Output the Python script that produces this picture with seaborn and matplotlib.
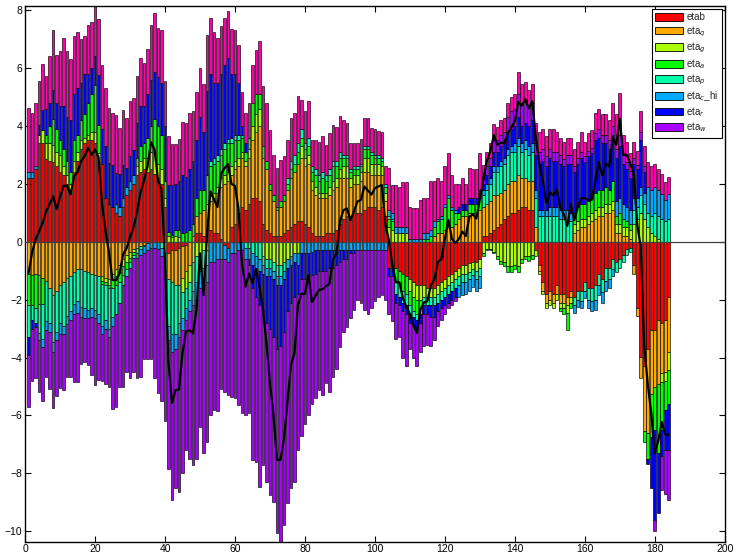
import colorsys

import numpy as np
import matplotlib
matplotlib.use("Agg")
import matplotlib.pyplot as plt
from matplotlib.patches import Patch
import seaborn as sns

# ------------------------------------------------------------
# Shock decomposition data (periods 1..184), one signed value per period
# ------------------------------------------------------------
periods = np.arange(1, 185)

etab = [
    2.2, 2.2, 2.5, 3.4, 3.4,
    2.85, 2.8, 2.75, 2.6, 2.4, 2.3, 2.0, 1.7, 2.4, 2.8, 3.2, 3.4, 3.5, 3.5, 3.4, 2.75,
    2.7, 1.5, 1.3, 1.2, 1.0, 0.9, 1.2, 1.6, 1.8, 2.0,
    2.3, 2.4, 2.5, 2.4, 2.5, 2.35, 2.2, 2.0, 1.2,
    -0.4, -0.3, -0.3, -0.2, -0.15, -0.1, 0, 0, 0.3, 0.3, 0.2, 0.4, 0.4, 0.3, 0.3, 0.1, -0.1, -0.2,
    0.5, 0.6, 1.0, 1.2, 1.1, 1.3, 1.5, 1.5, 1.4, 0.6, 0.4, 0.3, 0.2, 0.2, 0.2, 0.3, 0.4, 0.5, 0.6, 0.7,
    0.7, 0.6, 0.5, 0.3, 0.2, 0.2, 0.2, 0.3, 0.3, 0.3, 0.4, 0.6, 0.8, 0.9, 0.9, 1.0, 1.0, 1.0, 1.1, 1.2,
    1.2, 1.2, 1.1, 1.2, 0.9,
    -0.9, -0.9, -0.9, -1.0, -1.1, -1.2, -1.3, -1.4, -1.5, -1.5, -1.5, -1.6, -1.6,
    -1.6, -1.5, -1.4, -1.3, -1.2, -1.1, -1.0, -0.9, -0.8, -0.8, -0.75, -0.7, -0.7, -0.6,
    0.2, 0.2, 0.3, 0.4, 0.5, 0.6, 0.8, 0.9, 1.0, 1.0, 1.1, 1.2, 1.2, 1.1, 1.1, -0.3,
    -0.8, -1.4, -1.8, -1.7, -1.8, -1.5, -1.8, -1.8, -1.9, -1.7, -1.9, -1.7, -1.7, -1.4, -1.6, -1.6,
    -1.5, -1.1, -1.3, -0.9, -0.9, -0.6, -0.7, -0.6, -0.45, -0.25, -0.2,
    -0.8, -2.3, -3.97, -4.3, -3.7, -3.05, -3.05, -2.7, -2.8, -2.7, -1.9,
]

eta_q = [
    -1.1, -1.15, -1.1, -1.15, -1.25,
    -1.35, -1.6, -1.85, -1.7, -1.5, -1.4, -1.25, -1.2, -1.05, -0.95, -0.95, -1.0, -1.05, -1.1, -1.15, -1.2,
    -1.2, -1.25, -1.3, -1.1, -0.95, -0.8, -0.6, -0.45, -0.35, -0.25,
    -0.2, -0.15, -0.1, -0.05, 0, 0, 0, 0, -0.4,
    -0.9, -1.1, -1.2, -1.3, -1.1, -0.9, -0.8, 0.2, 0.6, 0.7, 0.9, 0.9, 1.0, 1.2, 1.4, 1.8, 2.0, 2.1,
    1.8, 1.9, 1.6, 1.7, 1.5, 1.6, 2.0, 2.3, 2.6, 2.3, 2.1, 1.5, 1.2, 0.9, 1.0, 1.1, 1.4, 1.7, 1.8, 2.0,
    2.2, 2.0, 2.2, 1.5, 1.4, 1.3, 1.3, 1.2, 1.3, 1.5, 1.5, 1.6, 1.4, 1.3, 1.0, 1.0, 1.0, 1.1, 1.3, 1.2,
    1.1, 1.1, 1.2, 1.1, 0.5,
    0, 0, 0, 0, 0, 0, 0, 0, 0, 0, 0, 0, 0,
    0.2, 0.3, 0.3, 0.4, 0.5, 0.5, 0.6, 0.8, 0.9, 0.9, 1.0, 1.0, 1.0, 1.1,
    1.0, 1.1, 1.1, 1.2, 1.1, 1.1, 1.0, 1.1, 1.1, 1.1, 1.2, 1.0, 1.0, 1.0, 1.0, 0.5,
    -0.2, -0.3, -0.3, -0.3, -0.3, -0.3, -0.3, -0.3, -0.3, -0.2, 0.3, 0.4, 0.5, 0.5, 0.6, 0.7,
    0.8, 0.9, 0.9, 1.0, 1.0, 1.1, 0.3, 0.3, 0.2, 0.2, 0.1,
    -0.3, -0.25, -0.73, -2.25, -2.9, -2.2, -1.95, -2.2, -1.75, -1.8, -1.9,
]

eta_g = [
    0, 0, 0, 0.3, 0.45,
    0.55, 0.6, 0.6, 0.5, 0.6, 0.3, 0.3, 0.3, 0.4, 0.3, 0.3, 0.2, 0.2, 0.3, 0.4, 0.3,
    -0.15, -0.15, -0.2, -0.2, -0.25, -0.25, -0.25, -0.25, -0.2, -0.1,
    0.3, 0.4, 0.4, 0.5, 0.6, 0.7, 0.5, 0.5, 0.3,
    0.2, 0.15, 0.2, 0.15, -0.5, -0.6, -0.6, -0.7, -0.5, -0.4, -0.3, -0.3, 0.2, 0.2, 0.2, 0.3, 0.3, 0.3,
    0.3, 0.3, 0.3, 0.2, 0.2, 0.3, 0.5, 0.6, 0.6, -0.5, -0.6, -0.6, -0.7, -0.8, -0.8, -0.7, -0.6, -0.5,
    -0.4, -0.4,
    0.4, 0.3, 0.3, 0.3, 0.3, 0.2, 0.2, 0.2, 0.3, 0.3, 0.3, 0.3, 0.4, 0.4, 0.3, 0.3, 0.3, 0.3, 0.5, 0.5,
    0.4, 0.4, 0.4, 0.3, 0.3,
    0.5, 0.4, 0.3, 0.3, 0.3, 0.3, -0.4, -0.5, -0.5, -0.5, -0.4, -0.3, -0.3,
    -0.3, -0.3, -0.3, -0.3, -0.3, -0.3, -0.3, -0.3, -0.3, -0.3, -0.3, -0.25, -0.3, -0.3,
    -0.4, -0.25, -0.25, -0.35, -0.5, -0.65, -0.7, -0.85, -0.85, -0.8, -0.85, -0.6, -0.5, -0.5, -0.45, -0.2,
    -0.1, -0.1, -0.2, -0.2, -0.2, -0.2, -0.2, -0.2, -0.25, -0.2, 0.3, 0.3, 0.3, 0.3, 0.3, 0.3,
    0.3, 0.3, 0.3, 0.3, 0.3, 0.3, 0.3, 0.3, 0.3, 0.3, 0.3,
    0.6, 0.8, 1.0, 0.8, 0.5, 0.3, 0.2, 0.1, -0.3, -0.3, -0.63,
]

eta_a = [
    -1.1, -1.05, -1.2, -1.0, -0.9,
    0.3, 0.6, 0.9, 0.8, 0.5, 0.6, 0.5, 0.4, 0.7, 0.6, 0.7, 0.8, 1.1, 1.3, 1.6, 1.0,
    -0.1, -0.1, -0.1, -0.3, -0.3, -0.35, -0.3, -0.25, -0.15, -0.1,
    0.3, 0.5, 0.5, 0.7, 0.9, 1.2, 1.3, 1.2, 0.6,
    0.15, 0.1, 0.2, 0.25, 0.3, 0.35, 0.4, 0.4, 0.6, 0.8, 0.7, 1.0, 1.0, 1.0, 0.9, 0.8, 0.9, 1.0,
    0.8, 0.7, 0.6, 0.5, 0.3, 0.4, 0.8, 0.7, 0.5, 0.4, 0.3, 0.2, 0.2, 0.1, 0.2, 0.2, 0.2, 0.3, 0.3, 0.4,
    0.3, 0.3, 0.3, 0.3, 0.4, 0.4, 0.5, 0.4, 0.4, 0.5, 0.4, 0.4, 0.3, 0.3, 0.2, 0.2, 0.2, 0.2, 0.3, 0.3,
    0.3, 0.2, 0.2, 0.2, 0.2,
    0.3, 0.3, -0.5, -0.5, -0.6, -0.6, -0.5, -0.5, -0.5, -0.3, 0.1, 0.1, 0.2,
    0.3, 0.4, 0.5, 0.8, 1.0, 0.6, 0.4, 0.2, 0.2, 0.2, 0.3, 0.3, 0.3, 0.4,
    -0.1, -0.05, -0.05, -0.05, -0.1, -0.13, -0.15, -0.2, -0.2, -0.15, -0.2, -0.15, -0.1, -0.15, -0.15, 0,
    0, 0, 0, 0, 0, 0, -0.1, -0.2, -0.6, -0.2, 0.4, 0.5, 0.5, 0.5, 0.5, 0.5,
    0.6, 0.6, 0.6, 0.6, 0.5, 0.7, 0.3, 0.4, 0.3, 0.2, 0.2,
    0, 0, 0, -0.35, -0.9, -1.5, -1.5, -2.4, -1.65, -1.0, -1.17,
]

eta_p = [
    -1.1, -0.5, -0.5, -1.0, -1.2,
    -1.4, -1.2, -1.6, -1.4, -1.3, -1.5, -1.3, -1.2, -1.1, -1.1, -1.3, -1.3, -1.3, -1.2, -1.2, -1.3,
    -1.45, -1.2, -1.4, -1.0, -1.0, -0.7, -0.35, -0.25, -0.2, -0.1,
    -0.2, -0.1, -0.05, 0, 0, 0, 0, -0.2, -0.6,
    -1.6, -1.8, -1.7, -1.3, -0.9, -0.7, -0.6, -1.0, -0.9, -0.6, -0.6, -0.5, 0.2, 0.2, 0.2, 0.2, 0.2, 0.15,
    0.2, 0.2, 0.2, 0.1, -0.2, -0.2, -0.4, -0.5, -0.6, -0.3, -0.3, -0.3, -0.3, -0.4, -0.4, -0.3, 0.2, 0.3,
    0.3, 0.3,
    0.3, 0.2, 0.3, 0.2, 0.2, 0.2, 0.2, 0.2, 0.2, 0.2, 0.2, 0.2, 0.1, 0.1, 0.1, 0.1, 0.1, 0.1, 0.1, 0.1,
    0.1, 0.1, 0.1, 0.1, 0.1,
    0.1, 0.1, -0.4, -0.4, -0.4, -0.4, -0.3, -0.2, -0.2, -0.2, -0.3, -0.3, -0.3,
    -0.3, -0.3, -0.3, -0.3, -0.3, -0.3, -0.3, -0.3, -0.3, -0.3, -0.25, -0.2, -0.3, -0.3,
    0.4, 0.5, 0.6, 0.8, 0.8, 0.9, 0.9, 1.0, 1.0, 1.0, 1.0, 0.9, 1.0, 0.9, 1.0, 1.0,
    0.9, 0.9, 0.9, 0.9, 0.9, 0.9, 0.8, 0.8, 0.8, 0.7, -0.3, -0.3, -0.35, -0.3, -0.4, -0.45,
    -0.5, -0.4, -0.45, -0.45, -0.4, -0.35, -0.35, -0.3, -0.25, -0.2, -0.15,
    0.5, 0.4, 0.6, 0.5, 0.5, 0.6, 0.8, 0.8, 0.8, 0.7, 0.8,
]

eta_c_hi = [
    0.2, 0.2, 0.1, -0.25, -0.3,
    -0.3, -0.3, -0.35, -0.3, -0.4, -0.3, -0.3, -0.3, -0.35, -0.4, -0.35, -0.35, -0.3, -0.3, -0.3, -0.3,
    -0.3, -0.3, -0.3, -0.3, 0.3, 0.3, 0.3, 0.3, 0.3, 0.3,
    -0.15, -0.2, -0.25, -0.25, -0.2, -0.2, -0.25, -0.3, -0.3,
    -0.5, -0.6, -0.5, -0.5, -0.4, -0.4, -0.4, -0.5, -0.6, -0.6, -0.6, -0.6, -0.7, -0.7, -0.6, -0.6, -0.5, -0.5,
    -0.4, -0.4, -0.3, -0.3, -0.4, -0.4, -0.4, -0.4, -0.4, -0.3, -0.3, -0.3, -0.3, -0.3, -0.3, -0.3, -0.3, -0.3,
    -0.3, -0.4,
    -0.4, -0.4, -0.4, -0.35, -0.3, -0.3, -0.3, -0.3, -0.3, -0.3, -0.3, -0.3, -0.3, -0.3, -0.3, -0.3, -0.3,
    -0.3, -0.3, -0.3, -0.3, -0.3, -0.3, -0.3, -0.3,
    0.2, 0.2, 0.2, 0.2, 0.2, 0.2, 0.1, 0.1, 0.1, 0.1, 0.2, 0.2, 0.2,
    0.2, 0.1, 0.1, 0.1, 0.1, 0.1, 0.1, -0.4, -0.45, -0.4, -0.4, -0.4, -0.4, -0.4,
    0.2, 0.2, 0.2, 0.2, 0.2, 0.2, 0.2, 0.2, 0.2, 0.3, 0.3, 0.3, 0.3, 0.3, 0.3, 0.3,
    0.2, 0.2, 0.2, 0.3, 0.3, 0.3, 0.3, 0.3, 0.3, 0.3, -0.25, -0.25, -0.25, -0.25, -0.3, -0.35,
    -0.35, -0.35, -0.35, -0.35, -0.3, -0.25, 0.5, 0.5, 0.5, 0.5, 0.5,
    0.4, 0.3, 0.3, 0.4, 0.9, 0.9, 0.9, 0.9, 0.85, 0.75, 0.85,
]

eta_r = [
    -0.6, -0.3, -0.15, 0.35, 0.7,
    0.9, 0.8, 1.0, 0.9, 1.2, 1.5, 1.5, 1.8, 1.6, 1.6, 1.3, 1.4, 1.0, 0.9, 1.0, 1.7,
    1.2, 1.8, 1.42, 1.44, 1.08, 1.13, 1.16, 0.66, 0.86, 0.88,
    1.2, 1.4, 1.3, 1.5, 1.6, 1.6, 1.7, 1.8, 1.9,
    1.6, 1.7, 1.6, 1.7, 2.0, 1.9, 2.1, 2.2, 2.0, 2.5, 2.0, 2.9, 3.0, 2.6, 2.5, 2.6, 2.7, 2.8,
    2.2, 2.1, 1.8, 0.3, 0.3, -0.2, -0.8, -1.0, -1.2, -1.3, -1.6, -1.8, -2.0, -2.2, -2.1, -1.8, -1.5, -1.3,
    -1.2, -1.0,
    -0.9, -0.9, -0.8, -0.8, -0.8, -0.7, -0.7, -0.7, -0.6, -0.6, -0.5, -0.4, -0.3, -0.3, -0.1, -0.1, 0, 0,
    0, 0, 0, 0, 0, 0, 0,
    -0.3, -0.3, -0.3, -0.3, -0.3, -0.3, -0.3, -0.3, -0.3, -0.3, -0.3, -0.3, -0.4,
    -0.4, -0.3, -0.3, -0.3, -0.3, -0.3, -0.3, 0.2, 0.2, 0.2, 0.2, 0.2, 0.2, 0.3,
    0.2, 0.3, 0.4, 0.5, 0.5, 0.5, 0.5, 0.6, 0.6, 0.6, 0.7, 0.6, 0.6, 0.7, 0.8, 1.2,
    1.6, 1.7, 1.5, 1.7, 1.6, 1.6, 1.6, 1.5, 1.6, 1.7, 1.4, 1.5, 1.6, 1.45, 1.55, 1.55,
    1.8, 1.8, 1.6, 1.5, 1.4, 1.6, 1.5, 1.8, 1.4, 1.3, 1.1,
    1.2, 1.0, 1.6, 0.7, -0.16, -1.77, -3.1, -2.08, -0.9, -1.4, -1.6,
]

eta_w = [
    -1.8, -1.82, -1.77, -1.8, -1.85,
    -1.63, -2.0, -1.93, -1.92, -1.85, -1.92, -1.81, -1.96, -2.34, -2.39, -1.62, -1.5, -1.61, -2.0, -2.3,
    -1.98,
    -1.6, -1.92, -1.7, -2.86, -3.2, -2.93, -3.5, -3.29, -3.8, -3.94,
    -4.16, -4.21, -3.66, -3.76, -3.86, -4.5, -4.99, -5.0, -4.9,
    -4.46, -5.12, -4.79, -5.34, -4.93, -4.5, -5.1, -5.5, -5.5, -4.8, -5.8, -5.5, -5.3, -5.1, -5.25, -4.5,
    -4.6, -4.6,
    -4.95, -5.0, -5.34, -5.6, -5.4, -5.1, -5.94, -5.7, -6.26, -5.31, -5.49, -5.75, -5.68, -6.37, -6.76,
    -6.69, -6.64, -6.42, -6.4, -5.4,
    -5.4, -5.0, -4.8, -4.45, -4.3, -4.12, -4.3, -3.89, -4.3, -3.76, -3.6, -2.93, -2.51, -2.35, -2.25,
    -1.96, -1.71, -1.8, -2.06, -2.2, -2.0, -1.75, -1.6, -1.54, -1.7,
    -1.3, -1.55, -1.25, -1.1, -1.6, -1.8, -0.9, -1.13, -1.3, -1.0, -1.1, -1.05, -1.0,
    -0.8, -0.5, -0.4, -0.3, -0.2, -0.2, -0.15, 0, 0, 0, 0, 0, 0, 0,
    0.2, 0.3, 0.3, 0.4, 0.4, 0.4, 0.4, 0.5, 0.6, 0.6, 0.8, 0.8, 0.8, 0.7, 0.6, 0.4,
    0.4, 0.4, 0.35, 0.3, 0.3, 0.3, 0.3, 0.25, 0.3, 0.3, 0.2, 0.2, 0.2, 0.2, 0.2, 0.2,
    0.25, 0.3, 0.3, 0.3, 0.3, 0.3, 0.3, 0.4, 0.3, 0.25, 0.25,
    0.2, 0.15, 0.3, 0.2, 0, 0, -0.4, 0, -1.18, -1.5, -1.72,
]

# initial conditions (drawn on top, not listed in the legend)
init_vals = [
    2.22, 2.05, 2.2, 1.5, 1.6,
    1.12, 1.6, 2.05, 1.65, 1.9, 2.35, 2.3, 2.1, 2.0, 1.95, 1.5, 1.3, 1.7, 1.6, 1.74, 1.95,
    2.2, 2.0, 1.9, 1.8, 2.0, 1.6, 1.9, 1.7, 1.9, 1.8,
    1.64, 1.66, 1.48, 1.56, 1.9, 2.04, 1.68, 1.8, 1.55,
    1.71, 1.41, 1.36, 1.44, 1.84, 1.85, 1.94, 1.73, 1.66, 1.7, 1.66, 1.94, 1.94, 1.76, 1.55, 1.64, 1.64,
    1.63,
    1.55, 1.53, 1.28, 1.16, 1.05, 1.2, 1.32, 1.54, 1.83, 2.09, 1.99, 1.87, 1.4, 1.34, 1.43, 1.37, 1.32,
    1.47, 1.45, 1.62,
    1.0, 1.1, 1.25, 0.92, 1.02, 1.16, 1.26, 1.05, 1.25, 1.24, 1.18, 1.23, 1.2, 1.1, 0.9, 0.8, 0.8, 0.85,
    0.97, 0.97, 0.83, 0.9, 0.81, 0.9, 0.6,
    1.45, 0.95, 1.45, 1.4, 1.55, 1.55, 1.1, 1.05, 1.05, 1.35, 1.2, 1.2, 1.7,
    1.4, 1.4, 1.2, 1.3, 1.45, 1.1, 0.9, 0.8, 0.9, 0.7, 1.06, 1.0, 1.0, 1.27,
    0.45, 0.5, 0.52, 0.58, 0.45, 0.5, 0.46, 0.5, 0.5, 0.5, 0.78, 0.65, 0.62, 0.55, 0.65, 0.7,
    0.7, 0.7, 0.7, 0.7, 0.8, 0.7, 0.6, 0.6, 0.6, 0.6, 0.6, 0.55, 0.7, 0.5, 0.6, 0.6,
    0.7, 0.7, 0.7, 0.7, 0.7, 0.8, 1.2, 1.45, 0.7, 0.7, 0.6,
    0.55, 0.5, 0.7, 0.7, 0.85, 0.8, 0.8, 0.7, 0.7, 0.6, 0.6,
]

shock_labels = ['etab', 'eta$_q$', 'eta$_g$', 'eta$_a$', 'eta$_p$', 'eta$_c$_hi', 'eta$_r$', 'eta$_w$']
series = [etab, eta_q, eta_g, eta_a, eta_p, eta_c_hi, eta_r, eta_w, init_vals]

for s in series:
    assert len(s) == len(periods), len(s)

# hsv colour map, one colour per contribution
colors = [colorsys.hsv_to_rgb(k / 9.0, 1.0, 1.0) for k in range(9)]

# ------------------------------------------------------------
# Plot
# ------------------------------------------------------------
sns.set_style('ticks')
plt.rcParams['font.family'] = ['Liberation Sans', 'DejaVu Sans']

fig, ax = plt.subplots(figsize=(7.38, 5.55), dpi=100)
fig.subplots_adjust(left=0.034, right=0.982, bottom=0.024, top=0.989)

vals = np.array(series, dtype=float)
pos_base = np.zeros(len(periods))
neg_base = np.zeros(len(periods))
for k, row in enumerate(vals):
    pos = np.clip(row, 0, None)
    neg = np.clip(row, None, 0)
    up = pos > 0
    dn = neg < 0
    ax.bar(periods[up], pos[up], bottom=pos_base[up], width=0.8,
           color=colors[k], edgecolor='black', linewidth=0.45, zorder=2)
    ax.bar(periods[dn], neg[dn], bottom=neg_base[dn], width=0.8,
           color=colors[k], edgecolor='black', linewidth=0.45, zorder=2)
    pos_base += pos
    neg_base += neg

ax.axhline(0, color='0.25', linewidth=0.9, zorder=3)

# the variable itself is the sum of all contributions
total = vals.sum(axis=0)
sns.lineplot(x=periods, y=total, color='black', linewidth=1.6, ax=ax, zorder=4)

ax.set_xlim(0, 200)
ax.set_ylim(-10.36, 8.14)
ax.set_xticks(np.arange(0, 201, 20))
ax.set_yticks(np.arange(-10, 9, 2))
ax.tick_params(direction='in', top=True, right=True, length=4, width=0.8,
               labelsize=7.5, pad=2, colors='black')
for sp in ax.spines.values():
    sp.set_linewidth(1.0)
    sp.set_color('black')

handles = [Patch(facecolor=colors[k], edgecolor='black', linewidth=0.6) for k in range(8)]
leg = ax.legend(handles, shock_labels, loc='upper right', fontsize=7, frameon=True,
                fancybox=False, framealpha=1, edgecolor='black', handlelength=2.9,
                handleheight=0.85, labelspacing=0.2, borderaxespad=0.3, handletextpad=0.3,
                borderpad=0.35)
leg.get_frame().set_linewidth(0.8)

fig.savefig('out.png', dpi=100)
plt.close(fig)
